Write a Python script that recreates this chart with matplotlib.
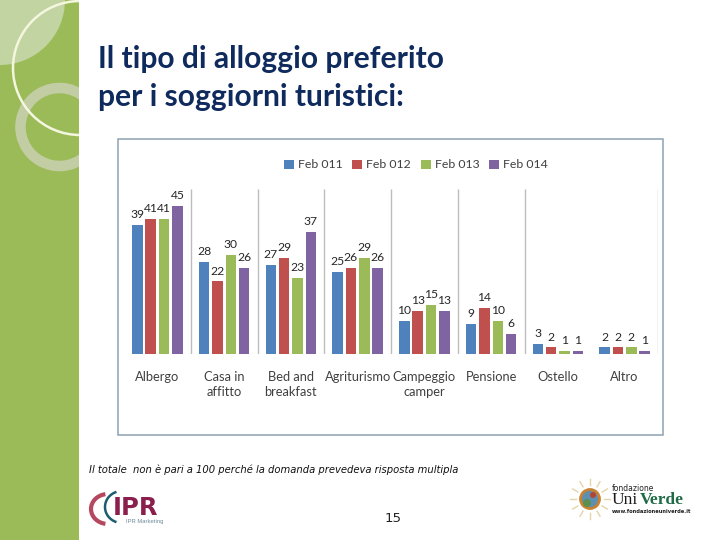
#!/usr/bin/python3
import numpy as np
import matplotlib
matplotlib.use('Agg')
import matplotlib.pyplot as plt
from matplotlib.patches import Circle, Rectangle, Arc

categories = ['Albergo', 'Casa in\naffitto', 'Bed and\nbreakfast', 'Agriturismo',
              'Campeggio\ncamper', 'Pensione', 'Ostello', 'Altro']
series_names = ['Feb 011', 'Feb 012', 'Feb 013', 'Feb 014']
feb_011 = [39, 28, 27, 25, 10, 9, 3, 2]
feb_012 = [41, 22, 29, 26, 13, 14, 2, 2]
feb_013 = [41, 30, 23, 29, 15, 10, 1, 2]
feb_014 = [45, 26, 37, 26, 13, 6, 1, 1]
series_values = [feb_011, feb_012, feb_013, feb_014]
colors = ['#4F81BD', '#C0504D', '#9BBB59', '#8064A2']

W, H = 720, 540
navy = '#0F2A5C'
text_gray = '#404040'


def box(x0, y0, x1, y1):
    ## pixel box of the reference -> figure fraction
    return [x0 / W, 1 - y1 / H, (x1 - x0) / W, (y1 - y0) / H]


fig = plt.figure(figsize=(W / 100, H / 100), dpi=100, facecolor='white')

## page layer, in reference pixels
page = fig.add_axes([0, 0, 1, 1])
page.set_xlim(0, W)
page.set_ylim(H, 0)
page.axis('off')

## green side panel with its decoration
side = fig.add_axes(box(0, 0, 79, H))
side.set_xlim(0, 79)
side.set_ylim(H, 0)
side.axis('off')
side.add_patch(Rectangle((0, 0), 79, H, fc='#9BBB59', ec='none'))
side.add_patch(Circle((0, 0), 65, fc='#C1D4A1', ec='none'))
side.add_patch(Circle((59.5, 127), 39, fc='none', ec='#C3CDA4', lw=7.6))
side.add_patch(Circle((80, 68), 67, fc='none', ec='#F4F6DF', lw=1.8))

## title
page.text(98, 59, 'Il tipo di alloggio preferito', family='Lato', weight='bold',
          fontsize=21.6, color=navy, va='center')
page.text(98, 97, 'per i soggiorni turistici:', family='Lato', weight='bold',
          fontsize=21.6, color=navy, va='center')

## chart frame
page.add_patch(Rectangle((118, 139), 545, 296, fc='white', ec='#8DA2B2', lw=1.1))

## chart
ax = fig.add_axes(box(124, 189, 658, 354))
ax.patch.set_alpha(0)
x = np.arange(len(categories))
pitch = 0.2
for i, (name, values) in enumerate(zip(series_names, series_values)):
    bars = ax.bar(x + (i - 1.5) * pitch, values, width=0.158, color=colors[i], label=name)
    ax.bar_label(bars, padding=3.5, fontsize=8.7, color='#262626', family='Lato')

## separators between categories, the one before Altro is not drawn
seps = [s for s in x + 0.5 if s != 6.5]
ax.vlines(seps, 0, 50, color='#BDBDBD', lw=1)

ax.set_xlim(-0.5, len(categories) - 0.5)
ax.set_ylim(0, 50)
ax.set_yticks([])
ax.set_xticks(x)
ax.set_xticklabels(categories, fontsize=9.3, color=text_gray, family='Lato', linespacing=1.35)
ax.tick_params(axis='x', length=0, pad=12)
for s in ax.spines.values():
    s.set_visible(False)

leg = fig.legend(loc='center', bbox_to_anchor=(416 / W, 1 - 165 / H), ncol=4, frameon=False,
                 handlelength=0.8, handleheight=0.8, handletextpad=0.35, columnspacing=0.8,
                 prop={'family': 'Lato', 'size': 8.8})
for t in leg.get_texts():
    t.set_color(text_gray)

## footer
page.text(89, 470, 'Il totale  non è pari a 100 perché la domanda prevedeva risposta multipla',
          family='DejaVu Sans', style='italic', fontsize=7.2, color='#111111', va='center')
page.text(393, 518, '15', family='DejaVu Sans', fontsize=9.5, color='#222222', ha='center', va='center')

## IPR logo
page.add_patch(Arc((108, 509), 34, 30, theta1=100, theta2=260, ec='#B5475F', lw=3))
page.add_patch(Arc((122, 507), 34, 32, theta1=110, theta2=250, ec='#1F5C70', lw=1.8))
page.text(113, 508, 'IPR', family='DejaVu Sans', weight='bold', fontsize=17.5, color='#8A1F4E', va='center')
page.text(126, 521, 'IPR Marketing', family='Liberation Sans', fontsize=4.2, color='#6E8A98', va='center')

## UniVerde logo
sun = (590, 499)
for a in np.deg2rad(np.arange(0, 360, 30)):
    page.plot([sun[0] + 14 * np.cos(a), sun[0] + 20 * np.cos(a)],
              [sun[1] + 14 * np.sin(a), sun[1] + 20 * np.sin(a)], color='#E3D5A8', lw=1)
page.add_patch(Circle(sun, 9.5, fc='#5E8FB0', ec='#C9822F', lw=2))
page.add_patch(Circle((587, 503), 4, fc='#5B8F4E', ec='none'))
page.add_patch(Circle((593, 495), 3, fc='#B2453A', ec='none'))
page.text(612, 488.5, 'fondazione', family='DejaVu Sans', fontsize=5.5, color='#222222', va='center')
page.text(612, 500.5, 'Uni', family='Liberation Serif', fontsize=12.5, color='#1A1A1A', va='center')
page.text(640, 500.5, 'Verde', family='Liberation Serif', weight='bold', fontsize=12.5, color='#1F6B45', va='center')
page.text(612, 511.5, 'www.fondazioneuniverde.it', family='DejaVu Sans', weight='bold', fontsize=3.7,
          color='#222222', va='center')

fig.savefig('out.png', dpi=100)
